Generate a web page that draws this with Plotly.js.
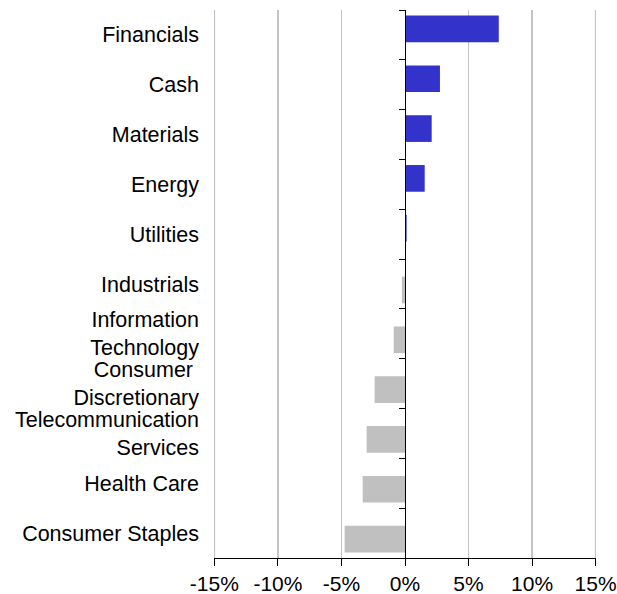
<!DOCTYPE html>
<html>
<head>
<meta charset="utf-8">
<script src="https://cdn.plot.ly/plotly-3.0.1.min.js"></script>
<style>html,body{margin:0;padding:0;background:#fff;}#chart{width:617px;height:594px;}</style>
</head>
<body>
<div id="chart"></div>
<script>
const categories = ["Financials", "Cash", "Materials", "Energy", "Utilities", "Industrials",
  "Information<br>Technology", "Consumer <br>Discretionary", "Telecommunication<br>Services",
  "Health Care", "Consumer Staples"];
const values = [7.38, 2.75, 2.1, 1.55, 0.13, -0.25, -0.89, -2.39, -3.02, -3.33, -4.75];
const xTicks = [-15, -10, -5, 0, 5, 10, 15];
const xTickLabels = ["-15%", "-10%", "-5%", "0%", "5%", "10%", "15%"];

const posColor = "#3333CC";
const negColor = "#C0C0C0";
const gridColor = "#c4c4c4";
const font = "Liberation Sans, Arial, sans-serif";
const fontSize = 21.5;

const overweight = values.map(v => v >= 0 ? v : null);
const underweight = values.map(v => v < 0 ? v : null);

const traces = [
  {
    type: "bar", orientation: "h", name: "Overweight",
    y: categories, x: overweight,
    width: 0.536, offset: -0.388,
    marker: { color: posColor },
    hoverinfo: "x+y", showlegend: false
  },
  {
    type: "bar", orientation: "h", name: "Underweight",
    y: categories, x: underweight,
    width: 0.536, offset: -0.148,
    marker: { color: negColor },
    hoverinfo: "x+y", showlegend: false
  },
  {
    type: "scatter", mode: "markers",
    y: categories, x: categories.map(() => 0),
    yaxis: "y2", marker: { opacity: 0 }, hoverinfo: "skip", showlegend: false
  }
];

const range = [categories.length - 0.5, -0.5];
const xMin = xTicks[0], xMax = xTicks[xTicks.length - 1];

// edge gridlines (Plotly omits gridlines lying on the plot edges)
const edgeGrid = [xMin, xMax].map(v => ({
  type: "line", layer: "below", xref: "x", yref: "paper",
  x0: v, x1: v, y0: 0, y1: 1,
  line: { color: gridColor, width: 1.5 }
}));

const layout = {
  width: 617, height: 594,
  margin: { l: 214, r: 21, t: 10, b: 36 },
  paper_bgcolor: "#fff", plot_bgcolor: "#fff",
  font: { family: font, size: fontSize, color: "#000" },
  barmode: "overlay",
  shapes: edgeGrid,
  xaxis: {
    range: [xMin - 0.03, xMax + 0.03], tickvals: xTicks, ticktext: xTickLabels,
    showgrid: true, gridcolor: gridColor, gridwidth: 1.5,
    zeroline: true, zerolinecolor: "#000", zerolinewidth: 1,
    showline: true, linecolor: "#000", linewidth: 1,
    ticks: "outside", ticklen: 7, tickcolor: "#000", tickwidth: 1,
    ticklabeloverflow: "allow",
    tickfont: { family: font, size: 21, color: "#000" },
    fixedrange: true
  },
  yaxis: {
    type: "category", categoryorder: "array", categoryarray: categories,
    range: range, showgrid: false, zeroline: false, showline: false,
    ticks: "", ticklabelstandoff: 14,
    tickfont: { family: font, size: fontSize, color: "#000" },
    fixedrange: true
  },
  yaxis2: {
    type: "category", categoryorder: "array", categoryarray: categories,
    range: range, overlaying: "y", anchor: "free", position: 0.5, side: "left",
    showgrid: false, zeroline: false, showline: true, linecolor: "#000", linewidth: 1,
    ticks: "outside", tickson: "boundaries", ticklen: 6, tickcolor: "#000", tickwidth: 1,
    showticklabels: false, fixedrange: true
  }
};

Plotly.newPlot("chart", traces, layout, { displayModeBar: false, staticPlot: true });
</script>
</body>
</html>
